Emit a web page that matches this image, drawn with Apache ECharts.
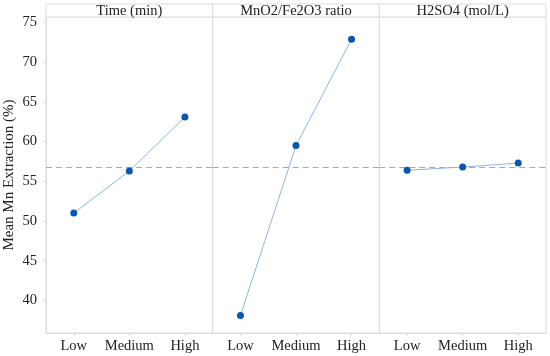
<!DOCTYPE html>
<html>
<head>
<meta charset="utf-8">
<script src="https://cdn.jsdelivr.net/npm/echarts@6/dist/echarts.min.js"></script>
<style>html,body{margin:0;padding:0;background:#fff}#c{width:550px;height:356px}</style>
</head>
<body>
<div id="c"></div>
<script>
const categories = ['Low', 'Medium', 'High'];
const panelTitles = ['Time (min)', 'MnO2/Fe2O3 ratio', 'H2SO4 (mol/L)'];
const timeMeans = [51.0, 56.3, 63.1];
const ratioMeans = [38.1, 59.5, 72.9];
const acidMeans = [56.4, 56.8, 57.3];
const grandMean = 56.8;
const yTicks = [40, 45, 50, 55, 60, 65, 70, 75];
const yName = 'Mean Mn Extraction (%)';
const yMin = 35.9, yMax = 75.7;

const seriesData = [timeMeans, ratioMeans, acidMeans];
const FONT = 'Liberation Serif';
const border = '#dcdcdc';
const plotLeft = 46, plotRight = 546, plotTop = 17, plotBottom = 333, headerTop = 4;
const pw = (plotRight - plotLeft) / 3;

const grids = [], xAxes = [], yAxes = [], series = [], graphics = [];
for (let i = 0; i < 3; i++) {
  const left = plotLeft + pw * i;
  grids.push({left: left, top: plotTop, width: pw, height: plotBottom - plotTop,
    show: true, borderColor: border, borderWidth: 1, backgroundColor: 'transparent'});
  xAxes.push({type: 'category', gridIndex: i, data: categories, boundaryGap: true,
    axisLine: {show: true, lineStyle: {color: border}},
    axisTick: {show: true, alignWithLabel: true, interval: 0, length: 3, lineStyle: {color: border}},
    axisLabel: {color: '#222', fontFamily: FONT, fontSize: 14.5, margin: 6, interval: 0},
    splitLine: {show: false}});
  yAxes.push({type: 'value', gridIndex: i, min: yMin, max: yMax,
    show: i === 0,
    name: i === 0 ? yName : '', nameLocation: 'middle', nameGap: 29,
    nameTextStyle: {color: '#222', fontFamily: FONT, fontSize: 15},
    axisLine: {show: true, lineStyle: {color: border}},
    axisTick: {show: true, length: 3, lineStyle: {color: border}, customValues: yTicks},
    axisLabel: {color: '#222', fontFamily: FONT, fontSize: 14.5, margin: 9, customValues: yTicks},
    splitLine: {show: false}});
  series.push({type: 'line', xAxisIndex: i, yAxisIndex: i, data: seriesData[i],
    symbol: 'circle', symbolSize: 7,
    itemStyle: {color: '#0b57b0'},
    lineStyle: {color: '#8cb6e2', width: 1},
    z: 3,
    markLine: {silent: true, symbol: 'none', label: {show: false},
      lineStyle: {color: '#a8a8a8', type: [6, 4], width: 1},
      data: [{yAxis: grandMean}], z: 2},
    animation: false});
  graphics.push({type: 'rect', shape: {x: left, y: headerTop, width: pw, height: plotTop - headerTop},
    style: {fill: '#fff', stroke: border, lineWidth: 1}, silent: true});
  graphics.push({type: 'text', style: {text: panelTitles[i], x: left + pw / 2, y: (headerTop + plotTop) / 2 + 0.5,
    textAlign: 'center', textVerticalAlign: 'middle', align: 'center', verticalAlign: 'middle',
    font: '14.5px "' + FONT + '"', fill: '#222'}, silent: true});
}

const chart = echarts.init(document.getElementById('c'), null, {renderer: 'canvas'});
chart.setOption({
  animation: false,
  grid: grids, xAxis: xAxes, yAxis: yAxes, series: series, graphic: graphics
});
</script>
</body>
</html>
